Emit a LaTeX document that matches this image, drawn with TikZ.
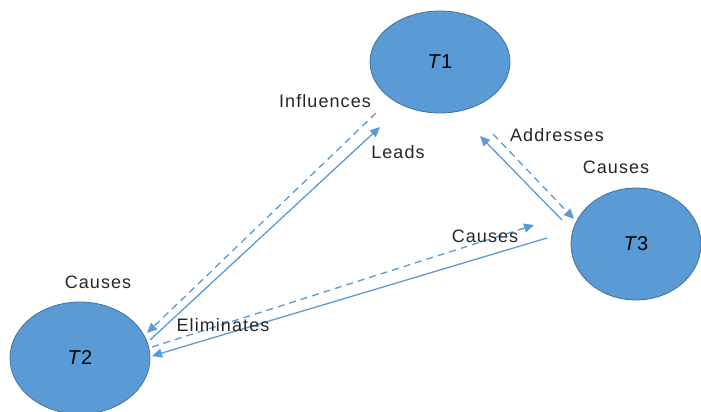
\documentclass[tikz,border=0pt]{standalone}
\usepackage{fontspec}
\setmainfont{Liberation Sans}
\newfontfamily\linkfont[LetterSpace=6]{Liberation Sans}
\usetikzlibrary{shapes.geometric,arrows.meta}
\definecolor{topicblue}{HTML}{5B9BD5}
\definecolor{topicedge}{HTML}{41719C}
\definecolor{labelgray}{HTML}{262626}

\begin{document}
\begin{tikzpicture}[x=1pt,y=-1pt]

      \useasboundingbox (0,0) rectangle (701,412);
      \clip (0,0) rectangle (701,412);

      \begin{scope}[every node/.style={ellipse,draw=topicedge,fill=topicblue,
          line width=.8pt,inner sep=0pt,font=\fontsize{20}{22}\selectfont}]
        \node[minimum width=140pt,minimum height=102pt] (t1) at (440,62)  {\textit{T}1};
        \node[minimum width=140pt,minimum height=112pt] (t2) at (80,358)  {\textit{T}2};
        \node[minimum width=130pt,minimum height=112pt] (t3) at (636,244) {\textit{T}3};
      \end{scope}

      % free ends of the links
      \coordinate (a1) at (376,113);  \coordinate (a2) at (147,333);
      \coordinate (b1) at (150,340);  \coordinate (b2) at (380,127);
      \coordinate (c1) at (152,347);  \coordinate (c2) at (534,225);
      \coordinate (d1) at (547,238);  \coordinate (d2) at (152,356);
      \coordinate (e1) at (562,220);  \coordinate (e2) at (480,136);
      \coordinate (f1) at (493,134);  \coordinate (f2) at (574,219);

      \begin{scope}[every edge/.style={draw=topicblue,line width=1.3pt,
          -{Triangle[length=10pt,width=9pt]}}]
        \path (a1) edge[dash pattern=on 7pt off 5pt] (a2);
        \path (b1) edge (b2);
        \path (c1) edge[dash pattern=on 7pt off 5pt] (c2);
        \path (d1) edge (d2);
        \path (e1) edge (e2);
        \path (f1) edge[dash pattern=on 7pt off 5pt] (f2);
      \end{scope}

      \begin{scope}[every node/.style={text=labelgray,font=\linkfont\fontsize{18}{20}\selectfont}]
        \node (infl)  at (325,101) {Influences};
        \node (leads) at (398,152) {Leads};
        \node (addr)  at (557,135) {Addresses};
        \node (caus3) at (616,167) {Causes};
        \node (causm) at (485,236) {Causes};
        \node (caus2) at (98,282)  {Causes};
        \node (elim)  at (223,325) {Eliminates};
      \end{scope}

    \end{tikzpicture}
\end{document}
